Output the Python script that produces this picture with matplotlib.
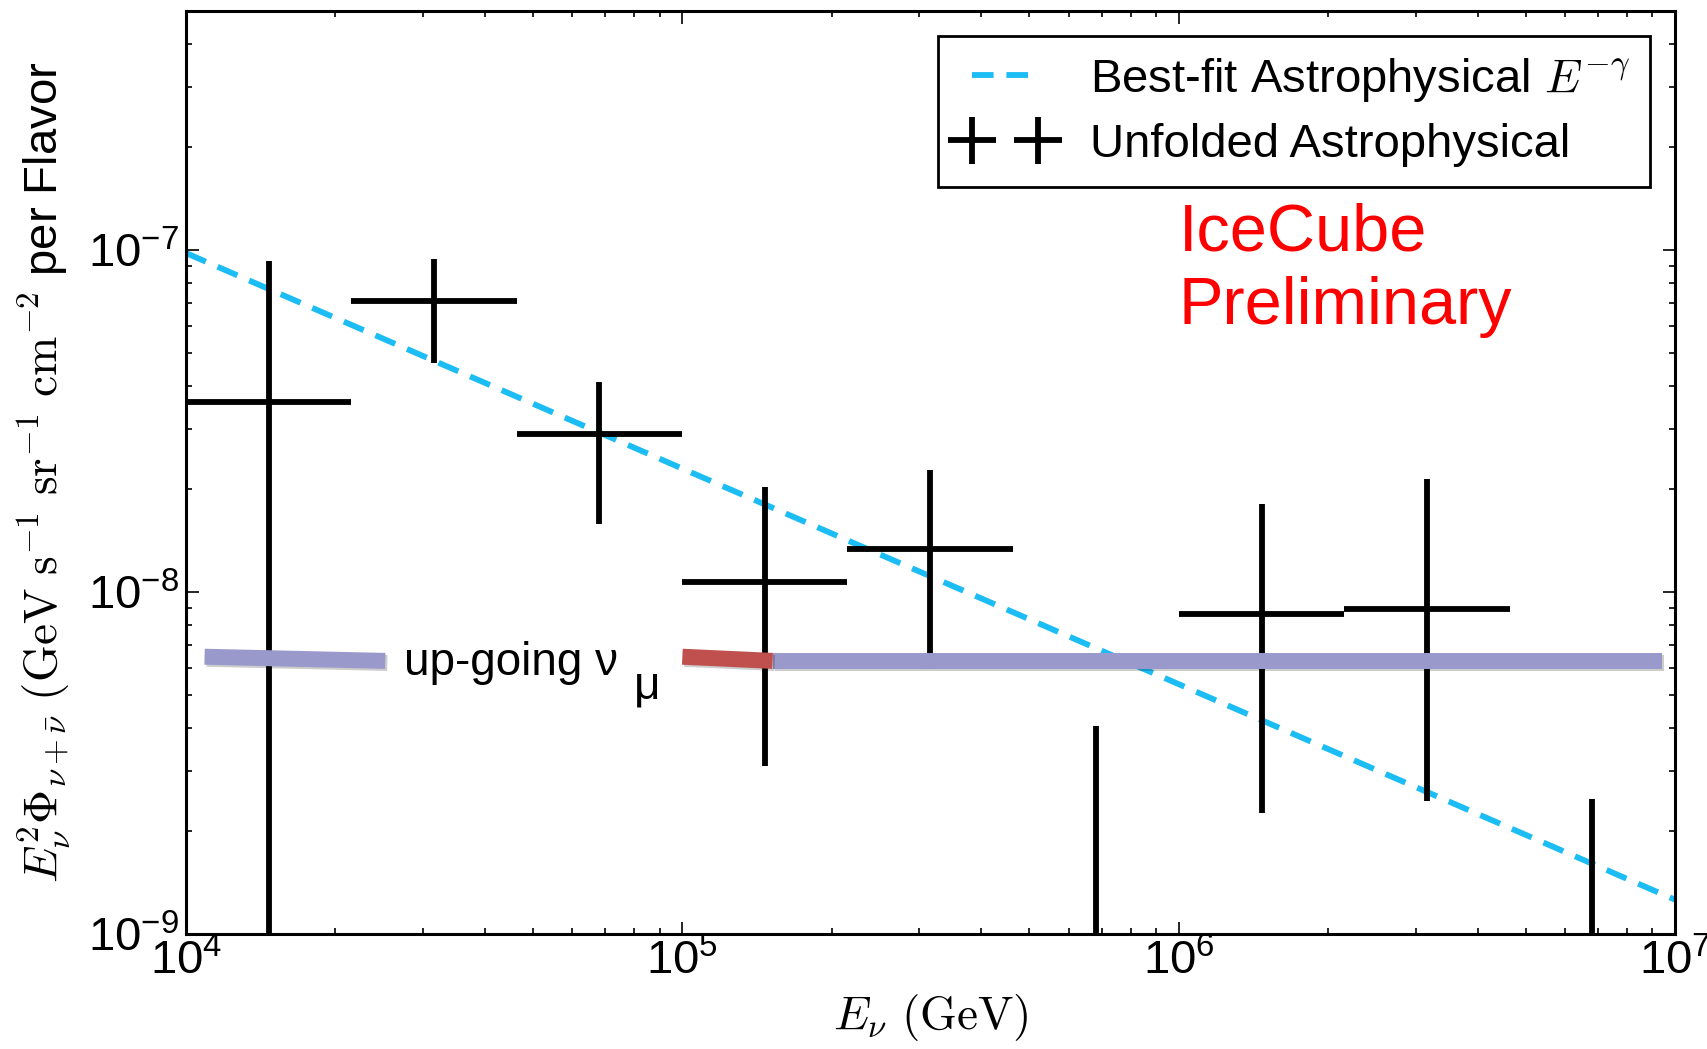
import numpy as np
import matplotlib
matplotlib.use('Agg')
import matplotlib.pyplot as plt
from matplotlib import patheffects as pe
from matplotlib.ticker import LogLocator, NullFormatter

plt.rcParams['mathtext.fontset'] = 'cm'
plt.rcParams['font.family'] = ['Liberation Sans', 'DejaVu Sans']

# ---- data ----
# measured unfolded astrophysical flux points
meas_center = [1.47e4, 3.16e4, 6.8e4, 1.47e5, 3.16e5, 1.47e6, 3.16e6]
meas_lo_edge = [1.0e4, 2.15e4, 4.64e4, 1.0e5, 2.15e5, 1.0e6, 2.15e6]
meas_hi_edge = [2.15e4, 4.64e4, 1.0e5, 2.15e5, 4.64e5, 2.15e6, 4.64e6]
meas_flux = [3.6e-8, 7.1e-8, 2.9e-8, 1.07e-8, 1.34e-8, 8.6e-9, 8.9e-9]
meas_up = [9.3e-8, 9.4e-8, 4.1e-8, 2.03e-8, 2.27e-8, 1.81e-8, 2.14e-8]
meas_down = [1e-12, 4.69e-8, 1.58e-8, 3.1e-9, 5.96e-9, 2.26e-9, 2.45e-9]

# upper-limit bins (no central value)
ul_center = [6.8e5, 6.8e6]
ul_value = [4.06e-9, 2.49e-9]

# best-fit power law (straight line in log-log), end points
fit_x = [1.0e4, 1.0e7]
fit_y = [9.8e-8, 1.26e-9]

# up-going numu band segments
band_left_x = [1.09e4, 2.52e4]
band_left_y = [6.47e-9, 6.29e-9]
band_red_x = [1.0e5, 1.52e5]
band_red_y = [6.47e-9, 6.29e-9]
band_right_x = [1.52e5, 9.4e6]
band_right_y = [6.29e-9, 6.29e-9]

# ---- figure ----
fig = plt.figure(figsize=(17.08, 10.49), dpi=100)
ax = fig.add_axes([0.1089, 0.1096, 0.8718, 0.8799])
ax.set_xscale('log')
ax.set_yscale('log')
ax.set_xlim(1e4, 1e7)
ax.set_ylim(1e-9, 5.0e-7)

c = np.array(meas_center)
f = np.array(meas_flux)
xerr = [c - np.array(meas_lo_edge), np.array(meas_hi_edge) - c]
yerr = [f - np.array(meas_down), np.array(meas_up) - f]

ax.plot(fit_x, fit_y, color='#1cbcf4', lw=4.2, dashes=(3.7, 2.2),
        label=r'Best-fit Astrophysical $E^{-\gamma}$', zorder=2)
ax.errorbar(c, f, xerr=xerr, yerr=yerr, fmt='none', ecolor='black',
            elinewidth=4.2, capsize=0, label='Unfolded Astrophysical', zorder=3)
ax.vlines(ul_center, 1e-12, ul_value, color='black', lw=4.2, zorder=3)

shadow = [pe.SimpleLineShadow(offset=(1.5, -1.5), alpha=0.2), pe.Normal()]
for bx, by, col in [(band_left_x, band_left_y, '#9999cc'),
                    (band_right_x, band_right_y, '#9999cc'),
                    (band_red_x, band_red_y, '#c0504d')]:
    ax.plot(bx, by, color=col, lw=11.5, solid_capstyle='butt', zorder=4,
            path_effects=shadow)

ax.text(2.75e4, 6.2e-9, 'up-going ν', fontsize=33, va='center', ha='left', zorder=5)
ax.text(8.0e4, 5.3e-9, 'μ', fontsize=33, va='center', ha='left', zorder=5)

ax.text(1.0e6, 0.719, 'IceCube\nPreliminary', fontsize=48, color='#ff0000',
        transform=ax.get_xaxis_transform(),
        va='center', ha='left', linespacing=1.25, zorder=5)

# ticks
for axis in (ax.xaxis, ax.yaxis):
    axis.set_major_locator(LogLocator(base=10, numticks=10))
    axis.set_minor_locator(LogLocator(base=10, subs=np.arange(2, 10), numticks=20))
    axis.set_minor_formatter(NullFormatter())
ax.tick_params(which='both', direction='in', top=True, right=True, width=1.2,
               labelsize=34)
ax.tick_params(which='major', length=9)
ax.tick_params(which='minor', length=4.5)
ax.tick_params(axis='x', pad=4)
ax.tick_params(axis='y', pad=5)
for s in ax.spines.values():
    s.set_linewidth(2.2)

ax.set_xlabel(r'$E_{\nu}\ (\mathrm{GeV})$', fontsize=34, labelpad=5)
ax.set_ylabel(r'$E_{\nu}^{2}\Phi_{\nu+\bar{\nu}}\ (\mathrm{GeV\ s^{-1}\ sr^{-1}\ cm^{-2}}$ per Flavor',
              fontsize=34, labelpad=11)

leg = ax.legend(loc='upper right', fontsize=34, numpoints=2, fancybox=False,
                framealpha=1, edgecolor='black', borderaxespad=0.53,
                handlelength=2.0, handletextpad=0.8, labelspacing=0.4,
                borderpad=0.42)
leg.get_frame().set_linewidth(2.0)

fig.savefig('out.png', dpi=100)
